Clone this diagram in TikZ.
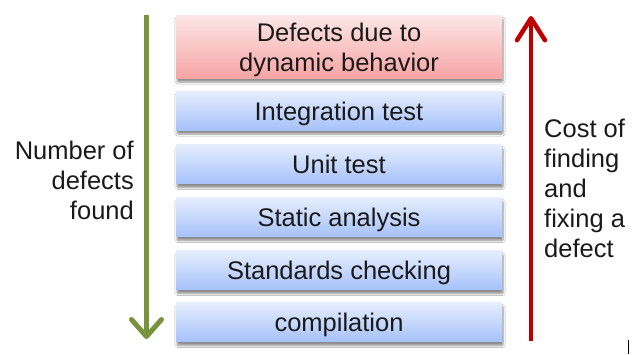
\documentclass[tikz,border=0pt]{standalone}
\usepackage{fontspec}
\setmainfont{Liberation Sans}
\usetikzlibrary{arrows.meta,shadows.blur}
\definecolor{bluetop}{HTML}{E6EEFE}
\definecolor{bluebot}{HTML}{A6C2FA}
\definecolor{redtop}{HTML}{FDE6E6}
\definecolor{redbot}{HTML}{F7A5A5}
\definecolor{greenarrow}{HTML}{77933C}
\definecolor{redarrow}{HTML}{C00000}
\definecolor{ink}{HTML}{1A1A1A}
\tikzset{
  stagetext/.style={align=center, text=ink, inner sep=0pt, yshift=-3pt,
    font=\fontsize{25.5}{30}\selectfont},
  linetext/.style={stagetext, text height=18.5pt, text depth=5.5pt},
  stage/.style={minimum width=326pt, inner sep=0pt,
    blur shadow={shadow xshift=1pt, shadow yshift=-4pt, shadow blur steps=6, shadow blur extra rounding=1pt, shadow opacity=45}},
  bluestage/.style={stage, label={[linetext]center:#1}, minimum height=39pt, top color=bluetop, bottom color=bluebot},
  redstage/.style={stage, label={[stagetext]center:#1}, minimum height=63pt, top color=redtop, bottom color=redbot},
  sidetext/.style={text=ink, font=\fontsize{25.5}{30}\selectfont, inner sep=0pt},
  flow/.style={line width=5pt}
}
\begin{document}
\begin{tikzpicture}[x=1pt, y=-1pt]
  \useasboundingbox (0,0) rectangle (638,354);
  \fill[white] (0,0) rectangle (638,354);

  % stacked stages, most expensive on top
  \node[redstage={Defects due to\\dynamic behavior}] (dyn)  at (339,46.5)  {};
  \node[bluestage={Integration test}]                (int)  at (339,110.5) {};
  \node[bluestage={Unit test}]                       (unit) at (339,164)   {};
  \node[bluestage={Static analysis}]                 (stat) at (339,217)   {};
  \node[bluestage={Standards checking}]              (std)  at (339,270)   {};
  \node[bluestage={compilation}]                     (comp) at (339,322)   {};

  % side arrows
  \coordinate (gtop) at (146.5,15);
  \coordinate (gbot) at (146.5,339);
  \coordinate (rbot) at (531,341);
  \coordinate (rtop) at (531,16);
  \draw[flow, greenarrow, -{Straight Barb[length=17pt,width=30pt,line cap=round,line join=round]}] (gtop) -- (gbot);
  \draw[flow, line width=4.5pt, redarrow, -{Straight Barb[length=22pt,width=28pt,line cap=round,line join=round]}] (rbot) -- (rtop);

  % side captions
  \node[sidetext, align=right, anchor=east] (found) at (134,180.5) {Number of\\defects\\found};
  \node[sidetext, align=left, anchor=west] (cost) at (544,188) {Cost of\\finding\\and\\fixing a\\defect};

  % caret mark at the lower right edge
  \draw[black, line width=1pt] (628.5,340) -- (628.5,354);
\end{tikzpicture}
\end{document}
